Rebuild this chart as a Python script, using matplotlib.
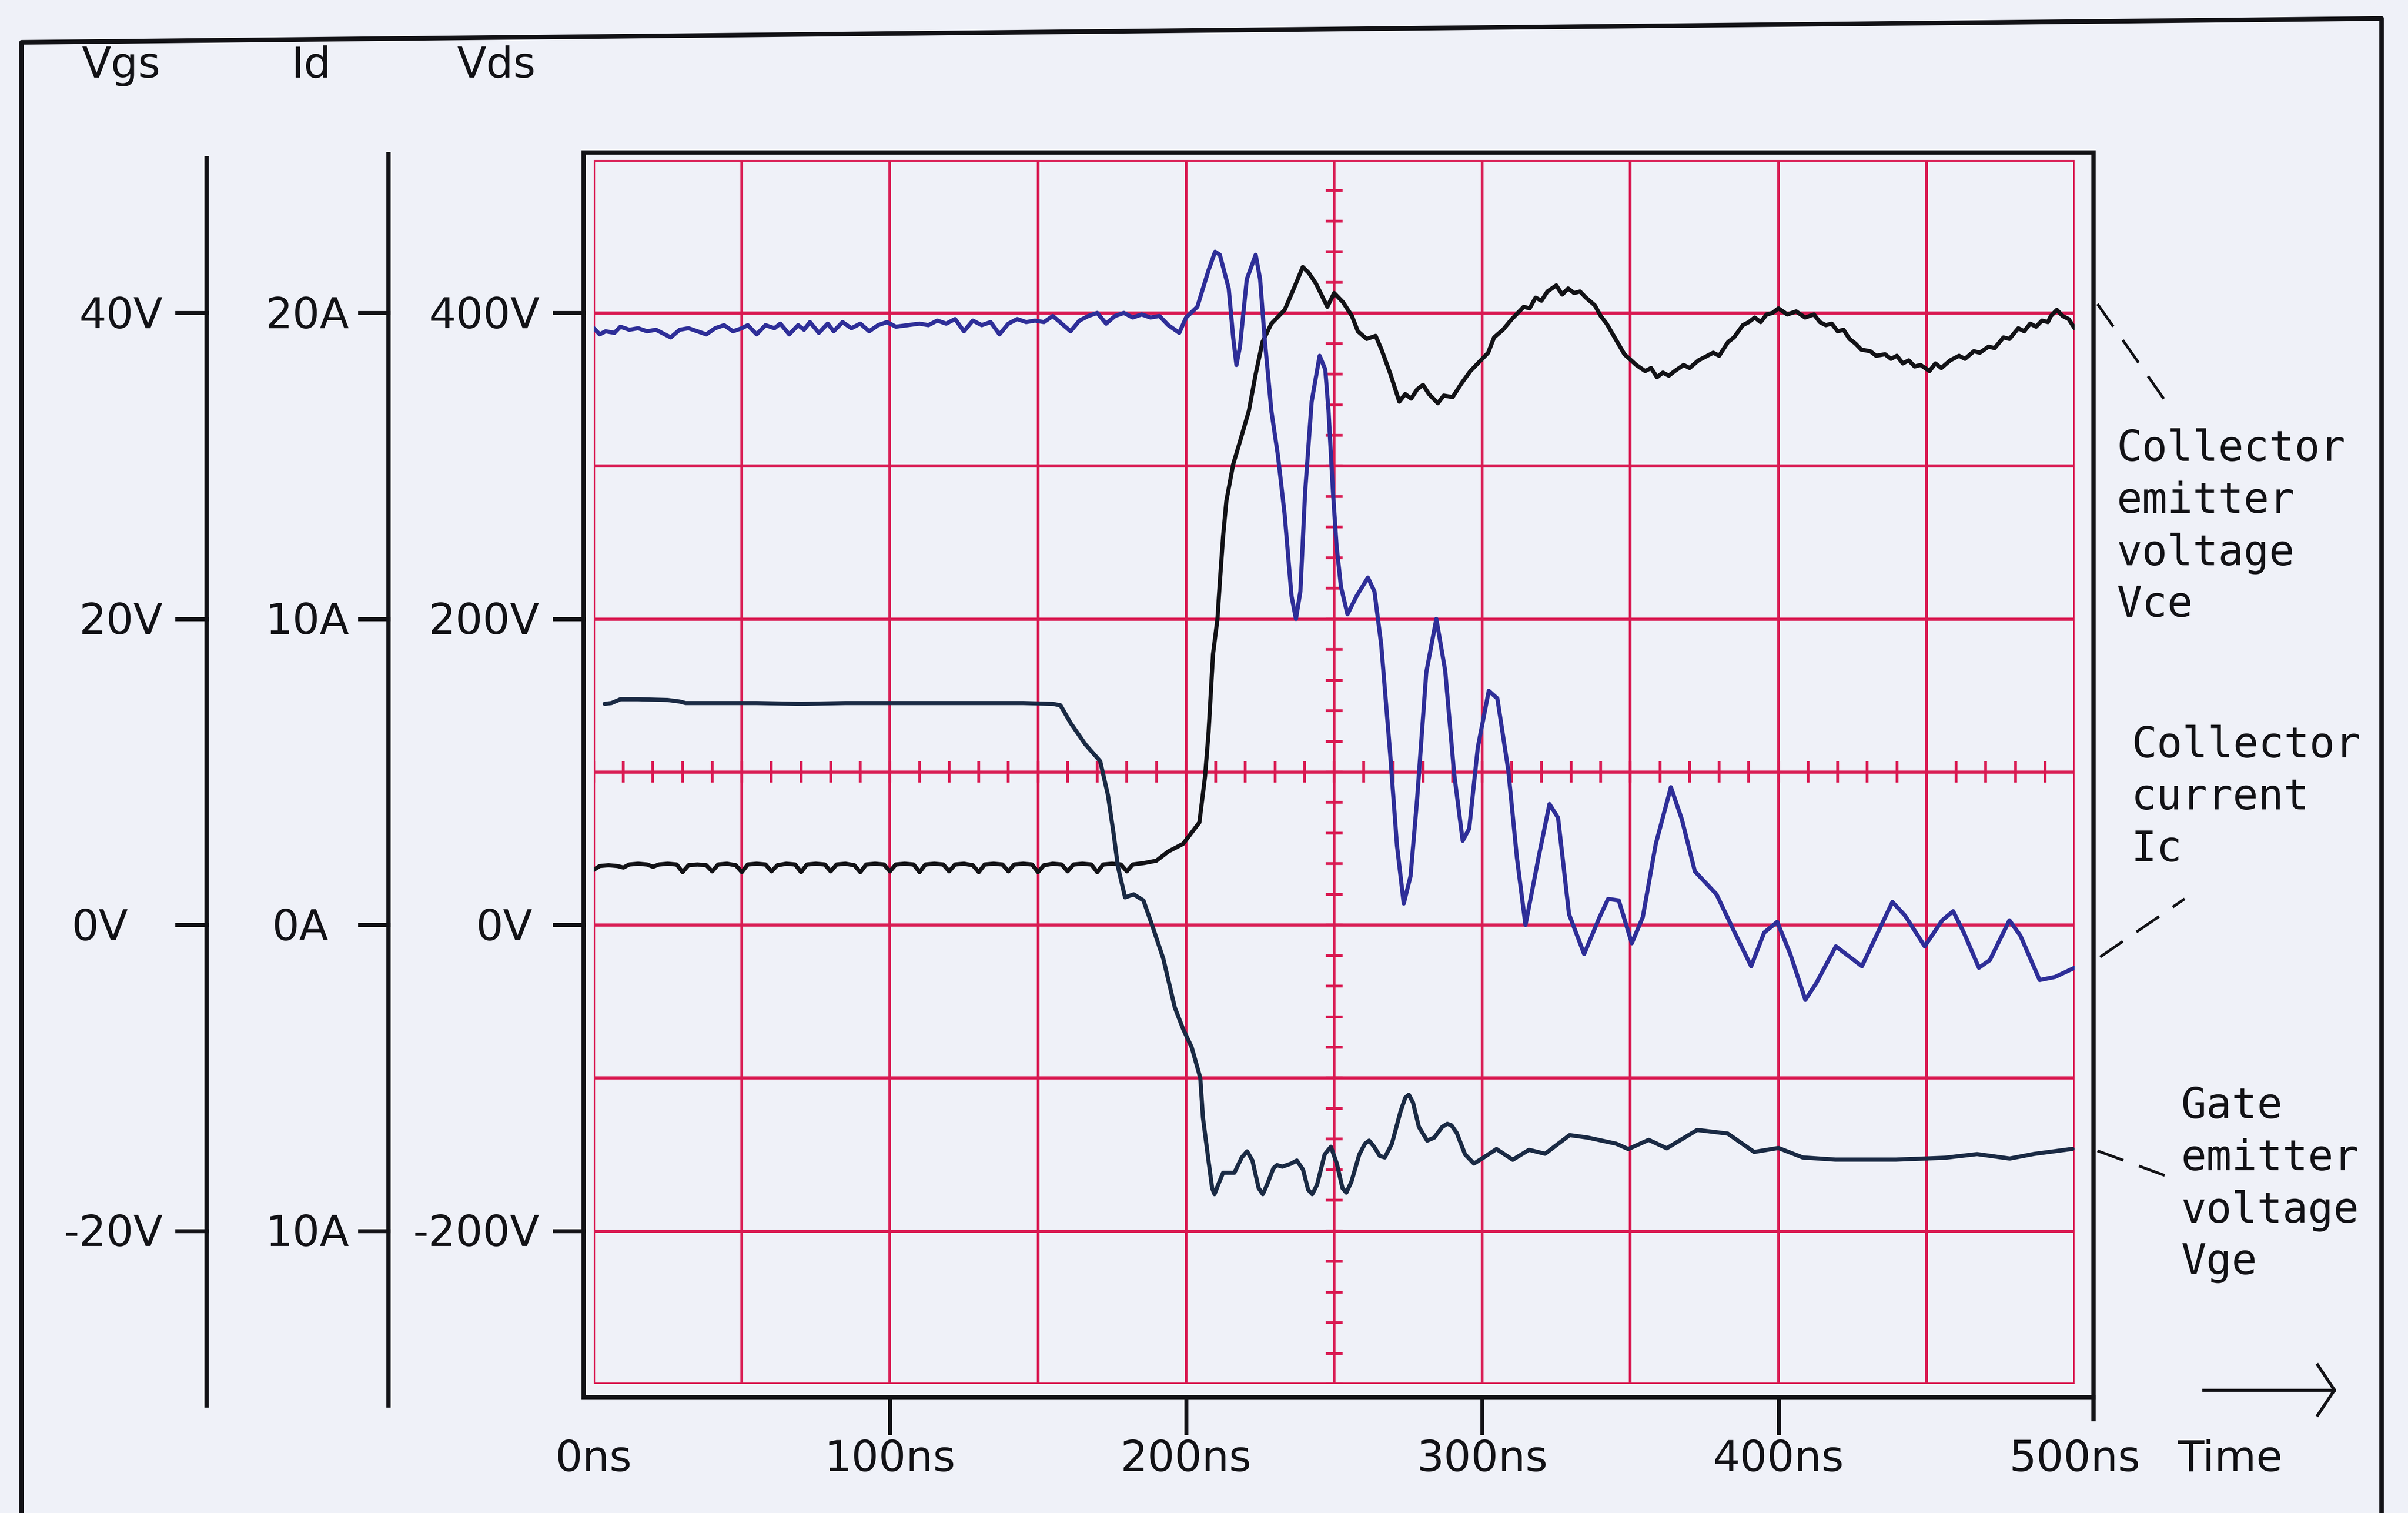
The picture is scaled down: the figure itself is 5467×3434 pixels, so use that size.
import numpy as np
import matplotlib
matplotlib.use("Agg")
import matplotlib.pyplot as plt
from matplotlib import transforms
from matplotlib.patches import Rectangle

# ---------------- data ----------------
# Collector-emitter voltage Vce  [V]  (Vds scale)
vce_t = [0, 2, 5, 8, 10, 12, 15, 18, 20, 22, 25, 28,
         30, 32, 35, 38, 40, 42, 45, 48, 50, 52, 55, 58,
         60, 62, 65, 68, 70, 72, 75, 78, 80, 82, 85, 88,
         90, 92, 95, 98, 100, 102, 105, 108, 110, 112, 115, 118,
         120, 122, 125, 128, 130, 132, 135, 138, 140, 142, 145, 148,
         150, 152, 155, 158, 160, 162, 165, 168, 170, 172, 175, 178,
         180, 182, 186, 190, 194, 199, 204.5, 206.4, 207.6, 209.1, 210.6, 211.4,
         212.5, 213.6, 215.9, 218.2, 221.2, 223.5, 225.8, 228.8, 233.3, 236.4, 239.4, 241.5,
         243.9, 247.7, 250, 253, 256, 258, 261, 264, 266, 269, 272, 274,
         276, 278, 280, 282, 285, 287, 290, 293, 296, 300, 302, 304,
         307, 310, 312, 314, 316, 318, 320, 322, 325, 327, 329, 331,
         333, 335, 338, 340, 342, 345, 348, 352, 355, 357, 359, 361,
         363, 365, 368, 370, 373, 375, 378, 380, 383, 385, 388, 390,
         392, 394, 396, 398, 400, 403, 406, 409, 412, 414, 416, 418,
         420, 422, 424, 426, 428, 431, 433, 436, 438, 440, 442, 444,
         446, 448, 451, 453, 455, 458, 461, 463, 466, 468, 471, 473,
         476, 478, 481, 483, 485, 487, 489, 491, 492, 494, 496, 498, 500]
vce_v = [36, 38.5, 39, 38.5, 37.5, 39.5, 40, 39.5, 38, 39.5, 40, 39.5,
         34.5, 39, 39.5, 39, 35, 39.5, 40, 39, 34.5, 39.5, 40, 39.5,
         35, 39, 40, 39.5, 34.5, 39.5, 40, 39.5, 35, 39.5, 40, 39,
         34.5, 39.5, 40, 39.5, 35, 39.5, 40, 39.5, 34.5, 39.5, 40, 39.5,
         35, 39.5, 40, 39, 34.5, 39.5, 40, 39.5, 35, 39.5, 40, 39.5,
         34.5, 39, 40, 39.5, 35, 39.5, 40, 39.5, 34.5, 39.5, 40, 39.5,
         35, 39.5, 40.5, 42, 48, 53, 67, 97, 126, 177, 200, 224,
         254, 277, 301, 316, 336, 360, 381, 393, 402, 416, 430, 426,
         419, 404, 413, 407, 398, 388, 383, 385, 376, 360, 342, 347,
         344, 350, 353, 347, 341, 346, 345, 354, 362, 370, 374, 384,
         389, 396, 400, 404, 403, 410, 408, 414, 418, 412, 416, 413,
         414, 410, 405, 398, 393, 383, 373, 366, 362, 364, 358, 361,
         359, 362, 366, 364, 369, 371, 374, 372, 381, 384, 392, 394,
         397, 394, 399, 400, 403, 399, 401, 397, 399, 394, 392, 393,
         388, 389, 383, 380, 376, 375, 372, 373, 370, 372, 367, 369,
         365, 366, 362, 367, 364, 369, 372, 370, 375, 374, 378, 377,
         384, 383, 390, 388, 393, 391, 395, 394, 398, 402, 398, 396, 390]

# Collector current Ic  [A]  (Id scale)
ic_t = [0, 2, 4, 7, 9, 12, 15, 18, 21, 24, 26, 29,
        32, 35, 38, 41, 44, 47, 50, 52, 55, 58, 61, 63,
        66, 69, 71, 73, 76, 79, 81, 84, 87, 90, 93, 96,
        99, 102, 106, 110, 113, 116, 119, 122, 125, 128, 131, 134,
        137, 140, 143, 146, 149, 152, 155, 158, 161, 164, 167, 170,
        173, 176, 179, 182, 185, 188, 191, 194, 197.7, 200, 203.8, 207.6,
        209.8, 211.4, 214.4, 215.9, 217, 218.2, 220.5, 223.5, 225, 226.5, 228.8, 231,
        233.3, 235.6, 237.1, 238.6, 240.2, 242.4, 245.1, 247, 248.1, 249.6, 250.8, 252.3,
        254.5, 257.6, 261.4, 263.6, 265.9, 268.9, 271.2, 273.5, 275.8, 278, 281.1, 284.5,
        287.5, 290.5, 293.4, 295.6, 298.5, 302.2, 305.1, 308.8, 311.7, 314.6, 319, 322.7,
        325.6, 329.3, 334.4, 339.6, 342.5, 346.1, 350.5, 354.2, 358.6, 363.7, 367.4, 371.8,
        379.1, 385, 390.8, 395.2, 399.6, 404, 409.1, 412.8, 419.4, 428.2, 434.8, 438.5,
        442.8, 449.4, 455.3, 459, 462.6, 467.7, 471.4, 478, 481.7, 488.2, 493.4, 500]
ic_a = [19.5, 19.3, 19.4, 19.35, 19.55, 19.45, 19.5, 19.4, 19.45, 19.3, 19.2, 19.45,
        19.5, 19.4, 19.3, 19.5, 19.6, 19.4, 19.5, 19.6, 19.3, 19.6, 19.5, 19.65,
        19.3, 19.6, 19.45, 19.7, 19.35, 19.65, 19.4, 19.7, 19.5, 19.65, 19.4, 19.6,
        19.7, 19.55, 19.6, 19.65, 19.6, 19.75, 19.65, 19.8, 19.4, 19.75, 19.6, 19.7,
        19.3, 19.65, 19.8, 19.7, 19.75, 19.7, 19.9, 19.65, 19.4, 19.75, 19.9, 20.0,
        19.65, 19.9, 20.0, 19.85, 19.95, 19.85, 19.9, 19.6, 19.35, 19.85, 20.2, 21.4,
        22.0, 21.9, 20.8, 19.2, 18.3, 18.9, 21.1, 21.9, 21.1, 19.2, 16.8, 15.35,
        13.4, 10.75, 10.0, 10.9, 14.15, 17.1, 18.6, 18.15, 16.8, 14.15, 12.4, 11.05,
        10.15, 10.75, 11.35, 10.9, 9.15, 5.6, 2.6, 0.7, 1.6, 4.1, 8.25, 10.0,
        8.3, 4.95, 2.75, 3.15, 5.8, 7.65, 7.4, 5.05, 2.2, 0.0, 2.2, 3.95,
        3.5, 0.35, -0.95, 0.25, 0.85, 0.8, -0.6, 0.25, 2.65, 4.5, 3.45, 1.75,
        1.0, -0.2, -1.35, -0.25, 0.1, -0.95, -2.45, -1.9, -0.7, -1.35, 0.0, 0.75,
        0.3, -0.7, 0.15, 0.45, -0.25, -1.4, -1.15, 0.15, -0.35, -1.8, -1.7, -1.4]

# Gate-emitter voltage Vge  [V]  (Vgs scale)
vge_t = [3.7, 6, 9, 15, 25, 29, 31, 40, 55, 70, 85, 100,
         115, 130, 145, 155, 157.6, 161, 166, 171, 173.6, 175.5, 177, 179.4,
         182.3, 185.6, 188.5, 192.3, 196.2, 199, 201.9, 204.8, 205.7, 207.7, 208.8, 209.6,
         210.8, 212.5, 216.3, 218.8, 220.6, 222.4, 224.5, 225.9, 227.3, 229.5, 230.7, 232.5,
         235.5, 237.4, 239.5, 241.2, 242.6, 244.2, 246.8, 248.9, 250.9, 252.8, 254.1, 255.8,
         258.5, 260.4, 261.8, 263.5, 265.4, 267.1, 269.5, 272.4, 274, 275.2, 276.6, 278.6,
         281.4, 283.8, 286.5, 288.2, 289.6, 291.4, 294.2, 297.2, 300.5, 304.8, 310.3, 315.8,
         321.2, 329.5, 335.6, 345.2, 349.3, 356.2, 362.3, 372.6, 382.9, 391.8, 400, 408.2,
         419.2, 439.7, 456.2, 467.1, 478.1, 486.3, 499.3]
vge_v = [14.45, 14.5, 14.75, 14.75, 14.7, 14.6, 14.5, 14.5, 14.5, 14.45, 14.5, 14.5,
         14.5, 14.5, 14.5, 14.45, 14.35, 13.2, 11.8, 10.7, 8.5, 6.0, 3.8, 1.8,
         2.0, 1.6, 0.0, -2.2, -5.4, -6.8, -8.0, -10.0, -12.6, -15.6, -17.2, -17.6,
         -17.0, -16.2, -16.2, -15.2, -14.8, -15.4, -17.2, -17.6, -17.0, -15.9, -15.7, -15.8,
         -15.6, -15.4, -16.0, -17.3, -17.6, -17.0, -15.0, -14.5, -15.6, -17.2, -17.5, -16.8,
         -15.0, -14.3, -14.1, -14.5, -15.1, -15.2, -14.3, -12.2, -11.3, -11.1, -11.6, -13.2,
         -14.1, -13.9, -13.2, -13.0, -13.1, -13.6, -15.0, -15.6, -15.2, -14.65, -15.35, -14.7,
         -14.96, -13.74, -13.9, -14.3, -14.65, -14.05, -14.6, -13.4, -13.64, -14.84, -14.58, -15.2,
         -15.34, -15.34, -15.22, -14.98, -15.27, -14.97, -14.64]

# axis labels
tick_vds = [400, 200, 0, -200]
vgs_labels = ["40V", "20V", "0V", "-20V"]
id_labels = ["20A", "10A", "0A", "10A"]
vds_labels = ["400V", "200V", "0V", "-200V"]
time_ticks = [0, 100, 200, 300, 400, 500]
time_labels = ["0ns", "100ns", "200ns", "300ns", "400ns", "500ns"]
header_labels = ["Vgs", "Id", "Vds"]
note_vce = ["Collector", "emitter", "voltage", "Vce"]
note_ic = ["Collector", "current", "Ic"]
note_vge = ["Gate", "emitter", "voltage", "Vge"]

# ---------------- styling ----------------
W, H = 5467, 3434
BG = "#eff1f8"
RED = "#d91a52"
INK = "#121216"
BLUE = "#2e2e98"
VGE_C = "#1a2a44"
FS = 70
SANS = "DejaVu Sans"
MONO = "DejaVu Sans Mono"
TRACE_LW = 6.8

fig = plt.figure(figsize=(W / 100, H / 100), dpi=100, facecolor=BG)

deco = fig.add_axes([0, 0, 1, 1])
deco.set_xlim(0, W)
deco.set_ylim(H, 0)
deco.axis("off")
deco.patch.set_alpha(0)

GX0, GX1, GY0, GY1 = 1348, 4710, 363, 3141
pos = [GX0 / W, 1 - GY1 / H, (GX1 - GX0) / W, (GY1 - GY0) / H]
ax = fig.add_axes(pos)
ax.set_xlim(0, 500)
ax.set_ylim(-300, 500)
ax.axis("off")
ax.patch.set_alpha(0)

ax_i = fig.add_axes(pos)
ax_i.set_xlim(0, 500)
ax_i.set_ylim(-15, 25)
ax_i.axis("off")
ax_i.patch.set_alpha(0)

ax_g = fig.add_axes(pos)
ax_g.set_xlim(0, 500)
ax_g.set_ylim(-30, 50)
ax_g.axis("off")
ax_g.patch.set_alpha(0)

# graticule
for t in range(0, 501, 50):
    ax.axvline(t, color=RED, lw=4.4, zorder=1)
for v in range(-300, 501, 100):
    ax.axhline(v, color=RED, lw=5.2, zorder=1)
for t in range(0, 501, 10):
    ax.plot([t, t], [94, 106], color=RED, lw=4.6, zorder=1)
for v in range(-300, 501, 20):
    ax.plot([247.6, 252.4], [v, v], color=RED, lw=4.6, zorder=1)

# black frame around screen
ax.add_patch(Rectangle((-3.4, -308.6), 509.8, 813.5, fill=False, lw=7,
                       ec=INK, clip_on=False, zorder=2))
for t in time_ticks[1:-1]:
    ax.plot([t, t], [-308.6, -332], color=INK, lw=6.5, clip_on=False)
ax.plot([506.4, 506.4], [-308.6, -323], color=INK, lw=7, clip_on=False)

# traces
ax.plot(vce_t, vce_v, color=INK, lw=TRACE_LW, zorder=4,
        solid_joinstyle="round", solid_capstyle="round")
ax_i.plot(ic_t, ic_a, color=BLUE, lw=TRACE_LW, zorder=4,
          solid_joinstyle="round", solid_capstyle="round")
ax_g.plot(vge_t, vge_v, color=VGE_C, lw=TRACE_LW, zorder=4,
          solid_joinstyle="round", solid_capstyle="round")

# outer frame
deco.plot([49, 49, 5407, 5407], [H, 96, 42, H], color=INK, lw=7.5)

# left scales
deco.plot([469, 469], [359, 3190], color=INK, lw=7)
deco.plot([882, 882], [350, 3190], color=INK, lw=7)
bl = transforms.blended_transform_factory(deco.transData, ax.transData)
for v in tick_vds:
    for x0, x1 in [(402, 469), (817, 882), (1259, 1325)]:
        deco.plot([x0, x1], [v, v], color=INK, lw=6.5, transform=bl)

right_x = [370, 793, 1225]
zero_x = [227, 682, 1145]
for col, labels in enumerate([vgs_labels, id_labels, vds_labels]):
    for v, lab in zip(tick_vds, labels):
        if v == 0:
            deco.text(zero_x[col], v - 10, lab, transform=bl, ha="center",
                      va="baseline", fontsize=FS, family=SANS, color=INK)
        else:
            deco.text(right_x[col], v - 10, lab, transform=bl, ha="right",
                      va="baseline", fontsize=FS, family=SANS, color=INK)

for x, lab in zip([275, 707, 1127], header_labels):
    deco.text(x, 176, lab, ha="center", va="baseline", fontsize=FS,
              family=SANS, color=INK)

# time axis labels
bt = transforms.blended_transform_factory(ax.transData, deco.transData)
for t, lab in zip(time_ticks, time_labels):
    deco.text(t, 3339, lab, transform=bt, ha="center", va="baseline",
              fontsize=FS, family=SANS, color=INK)
deco.text(5063, 3339, "Time", ha="center", va="baseline", fontsize=FS,
          family=SANS, color=INK)
deco.plot([5003, 5300], [3155, 3155], color=INK, lw=5)
deco.plot([5262, 5300, 5262], [3098, 3155, 3212], color=INK, lw=5)

# trace annotations
for lines, x0, y0 in [(note_vce, 4805, 1046), (note_ic, 4839, 1719),
                      (note_vge, 4951, 2538)]:
    for k, s in enumerate(lines):
        deco.text(x0, y0 + k * 118, s, ha="left", va="baseline",
                  fontsize=69, family=MONO, color=INK)

for (x0, y0), (x1, y1) in [((4762, 690), (4930, 930)),
                           ((4768, 2172), (4960, 2040)),
                           ((4762, 2612), (4926, 2672))]:
    deco.plot([x0, x1], [y0, y1], color=INK, lw=4.5, linestyle=(0, (10, 6)))

fig.savefig("out.png", dpi=100, facecolor=BG)
